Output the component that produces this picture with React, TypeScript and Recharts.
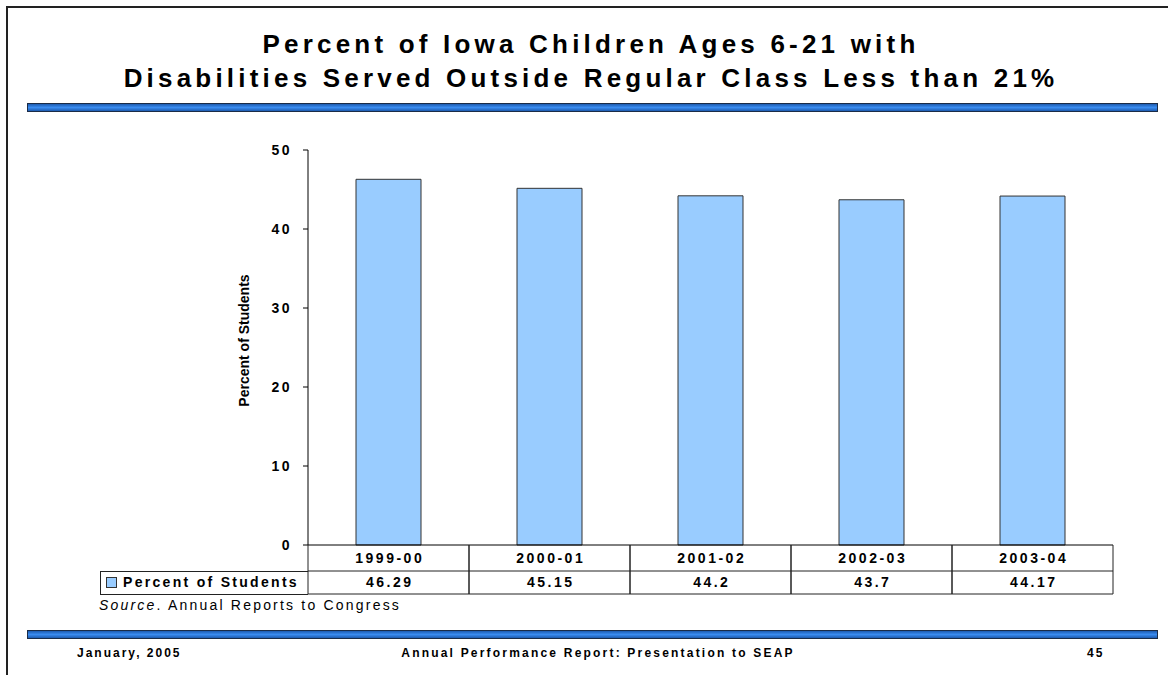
import { BarChart, Bar, XAxis, YAxis, Label } from 'recharts'

const years = ['1999-00', '2000-01', '2001-02', '2002-03', '2003-04']
const percentOfStudents = [46.29, 45.15, 44.2, 43.7, 44.17]
const yTicks = [0, 10, 20, 30, 40, 50]
const seriesName = 'Percent of Students'

const data = years.map((year, i) => ({ year, value: percentOfStudents[i] }))

const W = 1168
const H = 675
const FONT = 'Arial, "Liberation Sans", Helvetica, sans-serif'
const BAR_FILL = '#99CCFF'
const Y_W = 70
const margin = { top: 150, right: 55, bottom: 80, left: 238 }
const BAND = (W - margin.left - Y_W - margin.right) / years.length

const blueBar = (top: number): React.CSSProperties => ({
  position: 'absolute',
  left: 27,
  top,
  width: 1131,
  height: 9,
  boxSizing: 'border-box',
  border: '1px solid #1b2c47',
  background: 'linear-gradient(to bottom, #1d5bb0 0%, #3a8cf0 50%, #1d5bb0 100%)',
})

// category + value cells of the data table, one per band
const TableTick = (props: any) => {
  const { x, y, payload, index } = props
  const half = BAND / 2
  const ls = 2.5
  return (
    <g>
      <line x1={x - half} x2={x - half} y1={y} y2={y + 49} stroke="#222" />
      <line x1={x + half} x2={x + half} y1={y} y2={y + 49} stroke="#222" />
      <line x1={x - half} x2={x + half} y1={y + 26} y2={y + 26} stroke="#222" />
      <line x1={x - half} x2={x + half} y1={y + 49} y2={y + 49} stroke="#222" />
      <text x={x + ls / 2} y={y + 18} textAnchor="middle" fontSize={14} fontWeight="bold"
        fontFamily={FONT} fill="#000" style={{ letterSpacing: ls }}>
        {payload.value}
      </text>
      <text x={x + ls / 2} y={y + 42} textAnchor="middle" fontSize={14} fontWeight="bold"
        fontFamily={FONT} fill="#000" style={{ letterSpacing: ls }}>
        {percentOfStudents[index]}
      </text>
    </g>
  )
}

const YTick = (props: any) => {
  const { x, y, payload } = props
  return (
    <text x={x} y={y} dy={5} textAnchor="end" fontSize={14} fontWeight="bold"
      fontFamily={FONT} fill="#000" style={{ letterSpacing: 2.5 }}>
      {payload.value}
    </text>
  )
}

const YLabel = (props: any) => {
  const vb = props.viewBox || { x: margin.left, y: margin.top, width: Y_W, height: 395 }
  const x = vb.x + 11
  const y = vb.y + vb.height / 2 - 7
  return (
    <text x={x} y={y} transform={`rotate(-90 ${x} ${y})`} textAnchor="middle"
      fontSize={14} fontWeight="bold" fontFamily={FONT} fill="#000">
      {seriesName}
    </text>
  )
}

export default function App() {
  return (
    <div style={{ position: 'absolute', left: 0, top: 0, width: W, height: H, background: '#fff', overflow: 'hidden', fontFamily: FONT }}>
      {/* slide frame */}
      <div style={{ position: 'absolute', left: 6, top: 6, width: 1300, height: 800, borderLeft: '2px solid #222', borderTop: '2px solid #222' }} />

      {/* title */}
      <div style={{ position: 'absolute', left: 0, top: 27, width: W, boxSizing: 'border-box', paddingLeft: 14, textAlign: 'center', fontSize: 26, fontWeight: 'bold', lineHeight: '34px', letterSpacing: 4.2, color: '#000' }}>
        <div>Percent of Iowa Children Ages 6-21 with</div>
        <div>Disabilities Served Outside Regular Class Less than 21%</div>
      </div>
      <div style={blueBar(103)} />

      <BarChart width={W} height={H} data={data} margin={margin} style={{ position: 'absolute', left: 0, top: 0 }}>
        <XAxis dataKey="year" height={50} axisLine={{ stroke: '#000' }} tickLine={false}
          tickSize={0} tickMargin={0} tick={<TableTick />} interval={0} />
        <YAxis width={Y_W} domain={[0, 50]} ticks={yTicks} interval={0} axisLine={{ stroke: '#000' }}
          tickLine={{ stroke: '#000' }} tickSize={5} tickMargin={11} tick={<YTick />}>
          <Label content={<YLabel />} />
        </YAxis>
        <Bar dataKey="value" name={seriesName} fill={BAR_FILL} stroke="#333" strokeWidth={1}
          barSize={65} isAnimationActive={false} />
      </BarChart>

      {/* legend cell of the data table */}
      <div style={{ position: 'absolute', left: 100, top: 571, width: 208, height: 24, boxSizing: 'border-box', borderTop: '1px solid #222', borderLeft: '1px solid #222', borderBottom: '1px solid #222' }}>
        <div style={{ position: 'absolute', left: 5, top: 5, width: 11, height: 11, boxSizing: 'border-box', background: BAR_FILL, border: '1px solid #333' }} />
        <div style={{ position: 'absolute', left: 22, top: 2, fontSize: 14, fontWeight: 'bold', letterSpacing: 2.3, lineHeight: '17px', whiteSpace: 'nowrap' }}>
          {seriesName}
        </div>
      </div>

      {/* source note */}
      <div style={{ position: 'absolute', left: 99, top: 597, fontSize: 14, lineHeight: '16px', letterSpacing: 2.2, whiteSpace: 'nowrap' }}>
        <i>Source</i>. Annual Reports to Congress
      </div>

      {/* footer */}
      <div style={blueBar(630)} />
      <div style={{ position: 'absolute', left: 77, top: 646, fontSize: 12, fontWeight: 'bold', lineHeight: '14px', letterSpacing: 2, whiteSpace: 'nowrap' }}>
        January, 2005
      </div>
      <div style={{ position: 'absolute', left: 0, top: 646, width: W, boxSizing: 'border-box', paddingLeft: 28, textAlign: 'center', fontSize: 12, fontWeight: 'bold', lineHeight: '14px', letterSpacing: 2.2, whiteSpace: 'nowrap' }}>
        Annual Performance Report: Presentation to SEAP
      </div>
      <div style={{ position: 'absolute', left: 1087, top: 646, fontSize: 12, fontWeight: 'bold', lineHeight: '14px', letterSpacing: 2, whiteSpace: 'nowrap' }}>
        45
      </div>
    </div>
  )
}
